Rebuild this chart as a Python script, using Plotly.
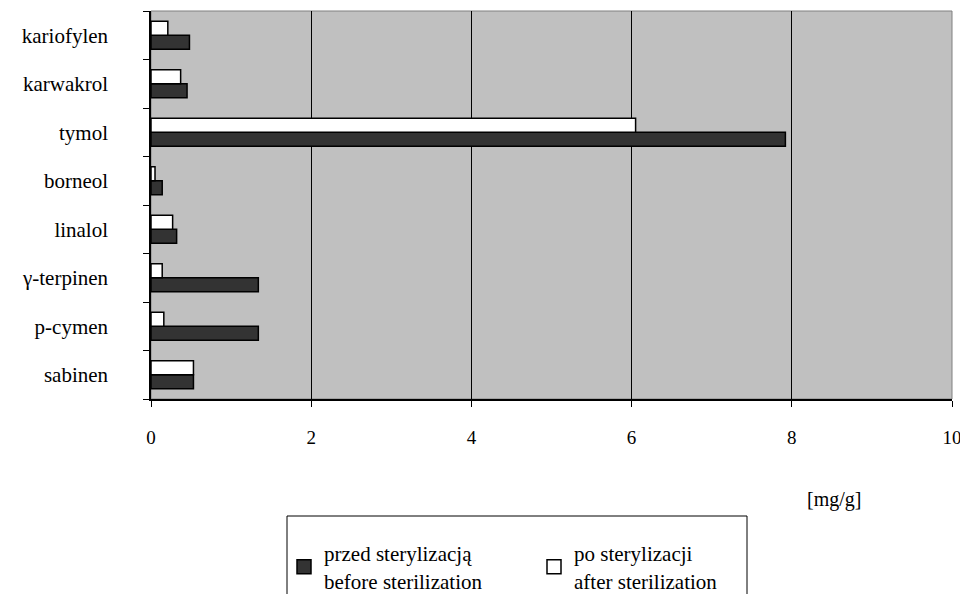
import plotly.graph_objects as go

categories = ["sabinen", "p-cymen", "γ-terpinen", "linalol", "borneol", "tymol", "karwakrol", "kariofylen"]
before = [0.53, 1.34, 1.34, 0.32, 0.14, 7.92, 0.45, 0.48]
after = [0.53, 0.16, 0.14, 0.27, 0.05, 6.05, 0.37, 0.21]
name_before = "przed sterylizacją<br>before sterilization"
name_after = "po sterylizacji<br>after sterilization"
x_ticks = [0, 2, 4, 6, 8, 10]
unit_label = "[mg/g]"

W, H = 960, 594
L, R, T, B = 151, 952, 11, 399
pw, ph = R - L, B - T


def px(x):
    return (x - L) / pw


def py(y):
    return (B - y) / ph


FONT = "'Liberation Serif', 'Times New Roman', Times, serif"
DARK = "#333333"

fig = go.Figure()
fig.add_trace(go.Bar(y=categories, x=before, orientation="h", name=name_before, showlegend=False,
                     marker=dict(color=DARK, line=dict(color="#000000", width=1.5))))
fig.add_trace(go.Bar(y=categories, x=after, orientation="h", name=name_after, showlegend=False,
                     marker=dict(color="#ffffff", line=dict(color="#000000", width=1.5))))
# legend entries (square swatches like the original)
fig.add_trace(go.Scatter(x=[None], y=[None], mode="markers", name=name_before,
                         marker=dict(symbol="square", size=14, color=DARK,
                                     line=dict(color="#000000", width=1.5))))
fig.add_trace(go.Scatter(x=[None], y=[None], mode="markers", name=name_after,
                         marker=dict(symbol="square", size=14, color="#ffffff",
                                     line=dict(color="#000000", width=1.5))))

fig.update_layout(
    width=W, height=H,
    margin=dict(l=L, r=W - R, t=T, b=H - B, autoexpand=False),
    paper_bgcolor="white",
    plot_bgcolor="#c0c0c0",
    barmode="group",
    bargap=0.42,
    bargroupgap=0,
    font=dict(family=FONT, size=21, color="black"),
    xaxis=dict(range=[0, 10], tickvals=x_ticks, showgrid=True, gridcolor="#000000", gridwidth=1,
               showline=True, linecolor="black", linewidth=1.5, ticks="outside", ticklen=6,
               tickcolor="black", zeroline=False, ticklabelstandoff=14,
               tickfont=dict(family=FONT, size=19),
               automargin=False, ticklabeloverflow="allow"),
    yaxis=dict(categoryorder="array", categoryarray=categories,
               showline=True, linecolor="black", linewidth=1.5, ticks="outside", ticklen=6,
               tickson="boundaries", tickcolor="black", showgrid=False, ticklabelstandoff=37,
               tickfont=dict(family=FONT, size=21), automargin=False),
    legend=dict(orientation="h", x=px(284), y=py(533), xanchor="left", yanchor="top",
                bgcolor="rgba(0,0,0,0)", font=dict(family=FONT, size=21), entrywidth=205,
                traceorder="normal", itemwidth=30),
    showlegend=True,
    shapes=[
        dict(type="rect", xref="paper", yref="paper", x0=0, x1=1, y0=0, y1=1,
             line=dict(color="#808080", width=1), layer="below"),
        dict(type="rect", xref="paper", yref="paper", x0=px(287), x1=px(747), y0=py(600), y1=py(516),
             line=dict(color="#000000", width=1), fillcolor="rgba(0,0,0,0)"),
    ],
    annotations=[
        dict(text=unit_label, xref="paper", yref="paper", x=px(863), y=py(499), showarrow=False,
             font=dict(family=FONT, size=20), xanchor="right", yanchor="middle"),
    ],
)

fig.write_html("out.html", config={"displayModeBar": False},
               post_script="document.body.style.margin='0';")
